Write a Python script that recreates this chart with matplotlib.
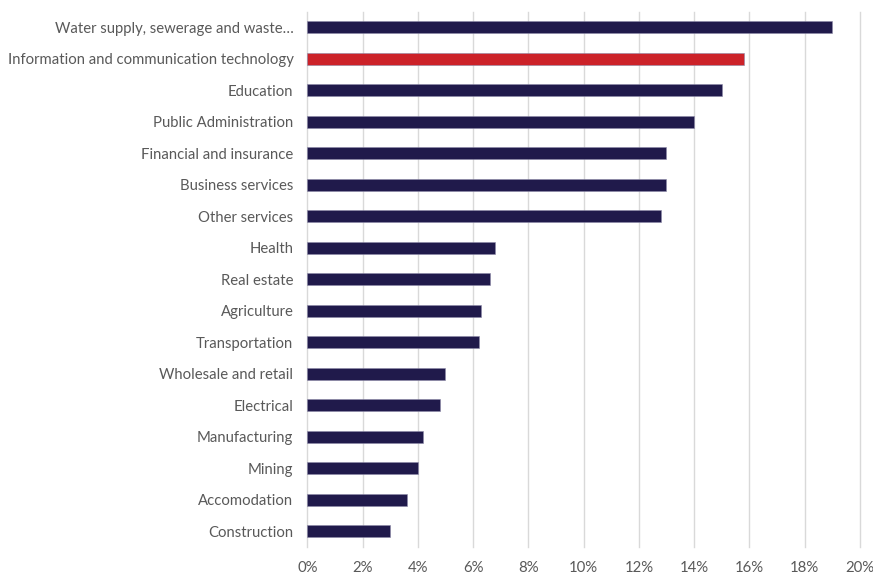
import matplotlib
matplotlib.use("Agg")
import matplotlib.pyplot as plt
from matplotlib.ticker import FuncFormatter

categories = [
    "Water supply, sewerage and waste…",
    "Information and communication technology",
    "Education",
    "Public Administration",
    "Financial and insurance",
    "Business services",
    "Other services",
    "Health",
    "Real estate",
    "Agriculture",
    "Transportation",
    "Wholesale and retail",
    "Electrical",
    "Manufacturing",
    "Mining",
    "Accomodation",
    "Construction",
]
values = [19.0, 15.8, 15.0, 14.0, 13.0, 13.0, 12.8, 6.8, 6.6, 6.3, 6.2,
          5.0, 4.8, 4.2, 4.0, 3.6, 3.0]
highlight = "Information and communication technology"
x_ticks = [0, 2, 4, 6, 8, 10, 12, 14, 16, 18, 20]

navy = "#201a4b"
red = "#cc2229"
text_color = "#595959"

plt.rcParams["font.family"] = ["Lato", "DejaVu Sans"]

fig = plt.figure(figsize=(8.73, 5.77), dpi=100)
ax = fig.add_axes([0.352, 0.052, 0.633, 0.928])

ypos = list(range(len(categories)))
colors = [red if c == highlight else navy for c in categories]
ax.barh(ypos, values, height=0.38, color=colors, edgecolor="#8c89a8",
        linewidth=0.4, zorder=3)

ax.set_ylim(len(categories) - 0.5, -0.5)
ax.set_xlim(0, 20)
ax.set_yticks(ypos)
ax.set_yticklabels(categories, fontsize=10.7, color=text_color)
ax.set_xticks(x_ticks)
ax.xaxis.set_major_formatter(FuncFormatter(lambda v, p: f"{v:.0f}%"))
ax.tick_params(axis="x", labelsize=10.7, labelcolor=text_color, length=0, pad=10)
ax.tick_params(axis="y", length=0, pad=10)

ax.grid(axis="x", color="#d9d9d9", linewidth=1, zorder=0)
for gl in ax.get_xgridlines():
    gl.set_clip_on(False)
for s in ax.spines.values():
    s.set_visible(False)

fig.savefig("out.png", dpi=100)
